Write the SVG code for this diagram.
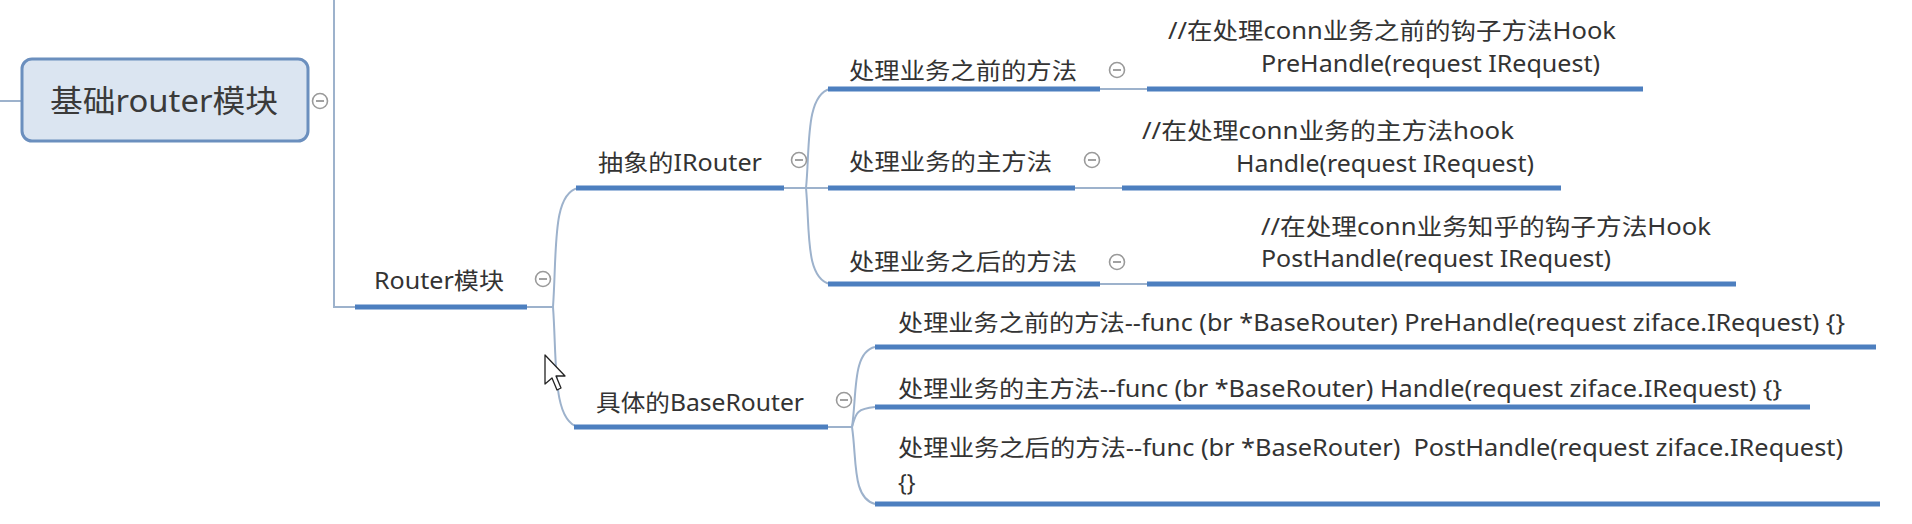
<svg xmlns="http://www.w3.org/2000/svg" width="1912" height="524" viewBox="0 0 1912 524">
<style>
.t{font-family:"Noto Sans","Noto Sans CJK SC",sans-serif;font-size:23px;fill:#333}
.root{font-family:"Noto Sans","Noto Sans CJK SC",sans-serif;font-size:31px;fill:#3a3a3a}
.ul{stroke:#4d7fbf;stroke-width:5;fill:none;stroke-linecap:butt}
.cn{stroke:#9db2cc;stroke-width:2;fill:none}
.tg{fill:#fff;stroke:#9a9a9a;stroke-width:1.6}
.tgm{stroke:#8a8a8a;stroke-width:1.6}
</style>
<defs>
<g id="toggle"><circle class="tg" cx="0" cy="0" r="7.5"/><line class="tgm" x1="-4" y1="0" x2="4" y2="0"/></g>
</defs>
<rect width="1912" height="524" fill="#fff"/>
<g id="connectors">
<line class="cn" x1="0" y1="101" x2="22" y2="101"/>
<path class="cn" d="M334,0 L334,307 L355,307"/>
<path class="cn" d="M527,307 L553,307"/>
<path class="cn" d="M553,307 C557,250 552,194 578,188"/>
<path class="cn" d="M553,307 C557,360 552,420 578,427"/>
<path class="cn" d="M784,188 L806,188"/>
<path class="cn" d="M806,188 C810,150 805,95 830,89"/>
<path class="cn" d="M806,188 L830,188"/>
<path class="cn" d="M806,188 C810,230 805,278 830,284"/>
<path class="cn" d="M1100,89 L1147,89"/>
<path class="cn" d="M1075,188 L1122,188"/>
<path class="cn" d="M1100,284 L1147,284"/>
<path class="cn" d="M828,427 L852,427"/>
<path class="cn" d="M852,427 C857,395 852,352 875,347"/>
<path class="cn" d="M852,427 C856,414 855,409 875,407"/>
<path class="cn" d="M852,427 C857,460 852,498 875,504"/>
</g>
<g id="root">
<rect x="22" y="59" width="286" height="82" rx="10" fill="#dbe5f1" stroke="#6b8fbe" stroke-width="3"/>
<text class="root" x="50" y="112" textLength="228" lengthAdjust="spacingAndGlyphs">基础router模块</text>
<use href="#toggle" x="320" y="101"/>
</g>
<g id="router">
<text class="t" x="374" y="289" textLength="130" lengthAdjust="spacingAndGlyphs">Router模块</text>
<line class="ul" x1="355" y1="307" x2="527" y2="307"/>
<use href="#toggle" x="543" y="279"/>
</g>
<g id="irouter">
<text class="t" x="598" y="171" textLength="164" lengthAdjust="spacingAndGlyphs">抽象的IRouter</text>
<line class="ul" x1="576" y1="188" x2="784" y2="188"/>
<use href="#toggle" x="799" y="160"/>
</g>
<g id="pre">
<text class="t" x="849" y="79" textLength="228" lengthAdjust="spacingAndGlyphs">处理业务之前的方法</text>
<line class="ul" x1="828" y1="89" x2="1100" y2="89"/>
<use href="#toggle" x="1117" y="70"/>
</g>
<g id="pre-leaf">
<text class="t" x="1168" y="39" textLength="448" lengthAdjust="spacingAndGlyphs">//在处理conn业务之前的钩子方法Hook</text>
<text class="t" x="1261" y="72" textLength="339" lengthAdjust="spacingAndGlyphs">PreHandle(request IRequest)</text>
<line class="ul" x1="1147" y1="89" x2="1643" y2="89"/>
</g>
<g id="main">
<text class="t" x="849" y="170" textLength="203" lengthAdjust="spacingAndGlyphs">处理业务的主方法</text>
<line class="ul" x1="828" y1="188" x2="1075" y2="188"/>
<use href="#toggle" x="1092" y="160"/>
</g>
<g id="main-leaf">
<text class="t" x="1142" y="139" textLength="372" lengthAdjust="spacingAndGlyphs">//在处理conn业务的主方法hook</text>
<text class="t" x="1236" y="172" textLength="298" lengthAdjust="spacingAndGlyphs">Handle(request IRequest)</text>
<line class="ul" x1="1122" y1="188" x2="1561" y2="188"/>
</g>
<g id="post">
<text class="t" x="849" y="270" textLength="228" lengthAdjust="spacingAndGlyphs">处理业务之后的方法</text>
<line class="ul" x1="828" y1="284" x2="1100" y2="284"/>
<use href="#toggle" x="1117" y="262"/>
</g>
<g id="post-leaf">
<text class="t" x="1261" y="235" textLength="450" lengthAdjust="spacingAndGlyphs">//在处理conn业务知乎的钩子方法Hook</text>
<text class="t" x="1261" y="267" textLength="350" lengthAdjust="spacingAndGlyphs">PostHandle(request IRequest)</text>
<line class="ul" x1="1147" y1="284" x2="1736" y2="284"/>
</g>
<g id="baserouter">
<text class="t" x="596" y="411" textLength="208" lengthAdjust="spacingAndGlyphs">具体的BaseRouter</text>
<line class="ul" x1="574" y1="427" x2="828" y2="427"/>
<use href="#toggle" x="844" y="400"/>
</g>
<g id="base-pre">
<text class="t" x="898" y="331" textLength="947" lengthAdjust="spacingAndGlyphs">处理业务之前的方法--func (br *BaseRouter) PreHandle(request ziface.IRequest) {}</text>
<line class="ul" x1="875" y1="347" x2="1876" y2="347"/>
</g>
<g id="base-main">
<text class="t" x="898" y="397" textLength="884" lengthAdjust="spacingAndGlyphs">处理业务的主方法--func (br *BaseRouter) Handle(request ziface.IRequest) {}</text>
<line class="ul" x1="875" y1="407" x2="1810" y2="407"/>
</g>
<g id="base-post">
<text class="t" x="898" y="456" textLength="945" lengthAdjust="spacingAndGlyphs" xml:space="preserve" style="white-space:pre">处理业务之后的方法--func (br *BaseRouter)  PostHandle(request ziface.IRequest)</text>
<text class="t" x="898" y="491">{}</text>
<line class="ul" x1="875" y1="504" x2="1880" y2="504"/>
</g>
<path d="M545,355 L545,384 L552,378 L557,390 L561,388 L556,376 L565,376 Z" fill="#fff" stroke="#222" stroke-width="1.3" stroke-linejoin="round"/>
</svg>
